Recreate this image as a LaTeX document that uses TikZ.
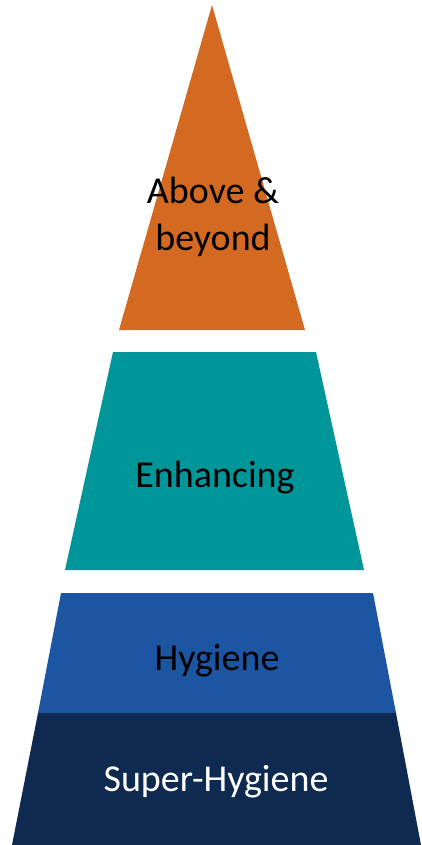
\documentclass[tikz,border=0pt]{standalone}
\usepackage{fontspec}
\setmainfont{Carlito}
\definecolor{tierorange}{RGB}{212,106,34}
\definecolor{tierteal}{RGB}{0,150,153}
\definecolor{tierblue}{RGB}{28,86,163}
\definecolor{tiernavy}{RGB}{14,42,80}
\tikzset{
  tier/.style={draw=none},
  label/.style={
    align=center,
    font=\fontsize{38}{47}\selectfont,
    text=black
  }
}

\begin{document}
\begin{tikzpicture}[x=1pt, y=-1pt]
    \useasboundingbox (0,0) rectangle (421,845);
    \fill[tier, tierorange] (212,5) -- (305,330) -- (119,330) -- cycle;
    \fill[tier, tierteal] (113,352) -- (316,352) -- (364,570) -- (65,570) -- cycle;
    \fill[tier, tierblue] (61,593) -- (373,593) -- (396,713) -- (38,713) -- cycle;
    \fill[tier, tiernavy] (38,713) -- (396,713) -- (421,845) -- (12,845) -- cycle;
    \node[label] (above) at (213,217) {Above \&\\beyond};
    \node[label] (enhancing) at (215,478) {Enhancing};
    \node[label] (hygiene) at (217,661) {Hygiene};
    \node[label, text=white] (super) at (216,782) {Super-Hygiene};
\end{tikzpicture}
\end{document}
